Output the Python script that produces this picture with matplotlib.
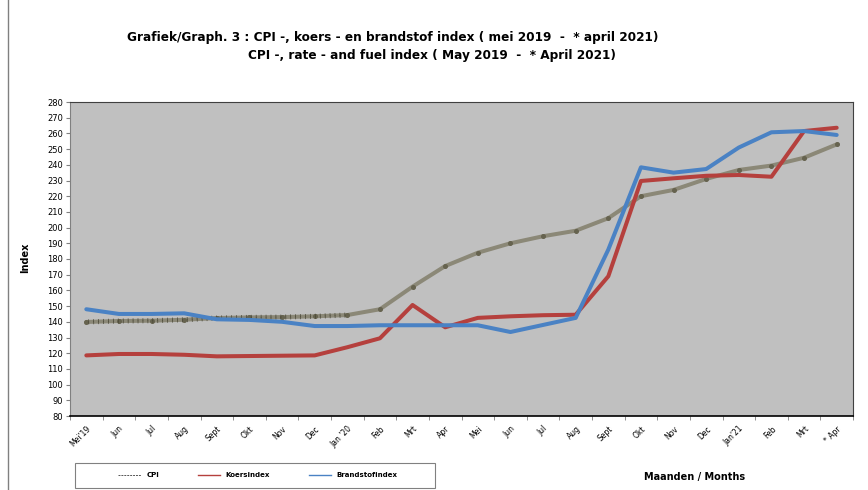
import matplotlib
matplotlib.use("Agg")
import matplotlib.pyplot as plt
from matplotlib.lines import Line2D
from matplotlib.patches import Rectangle
from matplotlib import patheffects
import numpy as np

months = ["Mei'19", "Jun", "Jul", "Aug", "Sept", "Okt", "Nov", "Dec", "Jan '20",
          "Feb", "Mrt", "Apr", "Mei", "Jun", "Jul", "Aug", "Sept", "Okt", "Nov",
          "Dec", "Jan'21", "Feb", "Mrt", "* Apr"]

cpi = [139.9, 140.5, 140.7, 141.3, 142.4, 142.8, 143.0, 143.5, 144.3, 148.0,
       162.4, 175.5, 184.0, 190.0, 194.5, 198.0, 206.0, 220.0, 224.0, 231.0,
       236.7, 239.5, 244.5, 253.0]
koers = [118.6, 119.5, 119.5, 119.0, 118.0, 118.2, 118.4, 118.6, 123.8, 129.5,
         150.7, 136.5, 142.5, 143.5, 144.2, 144.5, 169.0, 229.7, 231.4, 233.0,
         233.5, 232.4, 261.5, 263.6]
brandstof = [148.0, 145.0, 145.0, 145.4, 141.6, 141.2, 140.0, 137.3, 137.3, 137.8,
             137.8, 137.8, 137.8, 133.5, 138.0, 142.5, 186.0, 238.4, 235.0, 237.3,
             251.0, 260.7, 261.5, 259.0]

c_cpi = "#8b8877"
c_koers = "#b5403d"
c_brand = "#4a82c4"

fig = plt.figure(figsize=(8.68, 4.90), dpi=100)
ax = fig.add_axes([70/868, 1-416/490, 783/868, 314/490])
ax.set_facecolor("#c0c0c0")

x = np.arange(len(months))
lw = 2.9
ax.plot(x, cpi, color=c_cpi, lw=lw, solid_capstyle="round", zorder=2)
ax.plot(x, cpi, ls="none", marker="o", ms=2.6, color="#66634f", zorder=3)
# hatched part of the cpi line (first months)
ax.plot(x[:9], cpi[:9], color="none", lw=0, zorder=3,
        path_effects=[patheffects.TickedStroke(spacing=3.5, angle=90, length=0.45, linewidth=0.5, foreground="#4a4838"),
                      patheffects.TickedStroke(spacing=3.5, angle=-90, length=0.45, linewidth=0.5, foreground="#4a4838")])
ax.plot(x, koers, color=c_koers, lw=lw, solid_capstyle="round", zorder=4)
ax.plot(x, brandstof, color=c_brand, lw=lw, solid_capstyle="round", zorder=5)

ax.set_xlim(-0.5, len(months) - 0.5)
ax.set_ylim(80, 280)
ax.set_yticks(range(80, 281, 10))
ax.tick_params(axis="y", labelsize=6, length=3, color="#808080", pad=2)
ax.set_xticks(x)
ax.set_xticklabels(months, rotation=45, ha="right", rotation_mode="anchor", fontsize=5.5)
ax.tick_params(axis="x", length=0, pad=6)
ax.set_xticks(np.arange(-0.5, len(months)), minor=True)
ax.tick_params(axis="x", which="minor", length=3, color="#808080")

for s in ["top", "right"]:
    ax.spines[s].set_color("#404040")
    ax.spines[s].set_linewidth(0.8)
ax.spines["left"].set_color("#808080")
ax.spines["bottom"].set_color("black")
ax.spines["bottom"].set_linewidth(1.2)

fig.text(25/868, 1-258/490, "Index", rotation=90, fontsize=7, fontweight="bold",
         ha="center", va="center")
fig.text(393/868, 1-38/490, "Grafiek/Graph. 3 : CPI -, koers - en brandstof index ( mei 2019  -  * april 2021)",
         fontsize=8.7, fontweight="bold", ha="center", va="center")
fig.text(432/868, 1-55/490, "CPI -, rate - and fuel index ( May 2019  -  * April 2021)",
         fontsize=8.7, fontweight="bold", ha="center", va="center")
fig.text(695/868, 1-477/490, "Maanden / Months", fontsize=7, fontweight="bold",
         ha="center", va="center")

# legend box
fig.add_artist(Rectangle((75/868, 1-488/490), 360/868, 25/490, transform=fig.transFigure,
                         facecolor="white", edgecolor="#808080", lw=0.8))
handles = [Line2D([], [], color="#555555", lw=0.7, ls=(0, (2, 1))),
           Line2D([], [], color=c_koers, lw=1),
           Line2D([], [], color=c_brand, lw=1)]
leg = fig.legend(handles, ["CPI", "Koersindex", "Brandstofindex"], ncol=3,
                 loc="center", bbox_to_anchor=(258/868, 1-475/490),
                 prop={"size": 5, "weight": "bold"}, handlelength=3.2,
                 columnspacing=5.6, handletextpad=0.8, frameon=False)

fig.add_artist(Line2D([8/868, 8/868], [0, 1], color="#808080", lw=1))

fig.savefig("out.png", dpi=100)
